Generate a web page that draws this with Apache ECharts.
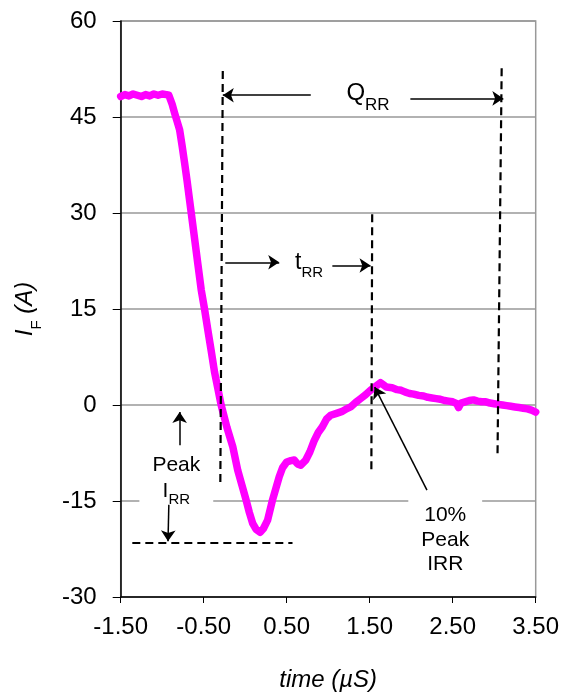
<!DOCTYPE html>
<html><head><meta charset="utf-8">
<script src="https://cdn.jsdelivr.net/npm/echarts@6/dist/echarts.min.js"></script>
<style>html,body{margin:0;padding:0;background:#fff}#c{width:565px;height:696px}</style>
</head><body><div id="c"></div>
<script>
// Forward current waveform I_F (A) vs time (µS)
const timeUs = [-1.50,-1.45,-1.40,-1.35,-1.30,-1.25,-1.20,-1.15,-1.10,-1.05,-1.00,-0.95,-0.92,
 -0.88,-0.85,-0.82,-0.79,-0.76,-0.73,-0.70,-0.67,-0.65,-0.61,-0.57,-0.53,-0.49,-0.45,-0.41,-0.37,-0.33,-0.29,
 -0.22,-0.15,-0.09,-0.04,0.01,0.05,0.09,0.13,0.18,0.22,0.27,0.33,0.37,0.41,0.45,0.50,0.55,0.59,0.63,0.67,0.70,
 0.73,0.78,0.83,0.88,0.93,0.98,1.03,1.10,1.17,1.22,1.27,1.33,1.39,1.45,1.51,1.57,1.63,1.66,1.70,1.77,1.83,1.88,
 1.93,1.98,2.03,2.09,2.15,2.20,2.25,2.30,2.35,2.40,2.45,2.50,2.55,2.57,2.60,2.65,2.70,2.75,2.80,2.85,2.90,2.95,
 3.00,3.05,3.10,3.15,3.20,3.25,3.30,3.35,3.40,3.45,3.50];
const currentA = [48.2,48.5,48.3,48.6,48.4,48.2,48.5,48.3,48.6,48.4,48.6,48.5,48.4,
 47.0,45.6,44.3,43.0,40.5,37.8,35.0,32.0,30.0,26.0,22.0,18.0,15.0,11.7,8.5,5.2,2.6,0.0,
 -3.5,-6.5,-10.2,-12.5,-14.8,-16.8,-18.5,-19.4,-19.9,-19.3,-18.0,-14.8,-13.0,-11.2,-9.8,-8.9,-8.7,-8.6,-9.2,-9.4,-9.0,
 -8.6,-7.3,-5.6,-4.3,-3.4,-2.2,-1.6,-1.3,-1.0,-0.6,-0.3,0.4,1.0,1.6,2.3,2.9,3.5,3.2,2.8,2.7,2.4,2.3,
 2.0,1.8,1.7,1.5,1.4,1.2,1.1,1.0,0.9,0.7,0.6,0.5,0.2,-0.4,0.3,0.5,0.7,0.8,0.6,0.5,0.5,0.3,
 0.2,0.1,0.0,-0.1,-0.2,-0.3,-0.4,-0.5,-0.6,-0.8,-1.1];

const xTickValues = [-1.5,-0.5,0.5,1.5,2.5,3.5];
const yTickValues = [-30,-15,0,15,30,45,60];

// Annotation geometry (data coordinates)
const dashedLines = [
  [[-0.27,52.2],[-0.30,-12.8]],
  [[3.09,52.6],[3.04,-7.8]],
  [[1.53,29.8],[1.52,-10.2]],
  [[-1.36,-21.5],[0.57,-21.5]]
];
const arrowLines = [
  [[0.79,48.4],[-0.27,48.4]],
  [[1.99,47.9],[3.11,47.9]],
  [[-0.24,22.3],[0.41,22.3]],
  [[1.05,21.8],[1.51,21.8]],
  [[-0.79,-6.3],[-0.79,-1.1]],
  [[-0.92,-15.6],[-0.93,-21.3]],
  [[2.19,-13.3],[1.56,2.8]]
];
const labelPoints = [
  {pos:[1.48,48.0], text:'{q|Q}{qs|RR}'},
  {pos:[0.77,21.8], text:'{t|t}{ts|RR}'},
  {pos:[-0.83,-11.9], text:'{p|Peak}\n{p|I}{ps|RR}', box:true},
  {pos:[2.41,-21.1], text:'{n|10%}\n{n|Peak}\n{n|IRR}', box:true}
];

const FONT = 'Liberation Sans, Arial, sans-serif';
const chart = echarts.init(document.getElementById('c'), null, {renderer:'canvas'});

const curve = timeUs.map((t,i)=>[t,currentA[i]]);

const tok = (o)=>Object.assign({fontFamily:FONT, color:'#000', textBorderWidth:0}, o);
const richStyles = {
  q:tok({fontSize:24, verticalAlign:'top', padding:[0,0,8,0]}),
  qs:tok({fontSize:17, verticalAlign:'bottom'}),
  t:tok({fontSize:23, verticalAlign:'top', padding:[0,0,6,0]}),
  ts:tok({fontSize:15, verticalAlign:'bottom'}),
  p:tok({fontSize:21, lineHeight:26, verticalAlign:'top', padding:[0,0,4,0]}),
  ps:tok({fontSize:15, verticalAlign:'bottom'}),
  n:tok({fontSize:21, lineHeight:24.5})
};

chart.setOption({
  animation:false,
  backgroundColor:'#fff',
  grid:{left:120.7, right:29.3, top:21, bottom:99, show:true, borderColor:'#999', borderWidth:1.5, backgroundColor:'transparent', containLabel:false, outerBoundsMode:'none'},
  xAxis:{
    type:'value', min:xTickValues[0], max:xTickValues[xTickValues.length-1], interval:1,
    name:'time (µS)', nameLocation:'middle', nameGap:71,
    nameTextStyle:{fontSize:24, fontStyle:'italic', fontFamily:FONT, color:'#000'},
    axisLine:{show:true, onZero:false, lineStyle:{color:'#000', width:1.5}},
    axisTick:{show:true, length:6, lineStyle:{color:'#000', width:1}},
    axisLabel:{fontSize:24, fontFamily:FONT, color:'#000', margin:18, formatter:v=>v.toFixed(2)},
    splitLine:{show:false}
  },
  yAxis:{
    type:'value', min:yTickValues[0], max:yTickValues[yTickValues.length-1], interval:15,
    name:'{i|I}{f|F}{i| (A)}', nameLocation:'middle', nameGap:76,
    nameTextStyle:{rich:{
      i:{fontSize:24, fontStyle:'italic', fontFamily:FONT, color:'#000', verticalAlign:'top', padding:[0,0,7,0]},
      f:{fontSize:15, fontFamily:FONT, color:'#000', verticalAlign:'bottom'}
    }},
    axisLine:{show:true, onZero:false, lineStyle:{color:'#000', width:1.5}},
    axisTick:{show:true, length:8, lineStyle:{color:'#000', width:1}},
    axisLabel:{fontSize:24, fontFamily:FONT, color:'#000', margin:24},
    splitLine:{show:true, lineStyle:{color:'#999', width:1.5}}
  },
  series:[
    {
      type:'line', data:curve, showSymbol:false, smooth:false, z:3,
      lineStyle:{color:'#ff00ff', width:7.5, join:'round', cap:'round'}
    },
    {
      type:'scatter', z:4, symbolSize:0, silent:true, itemStyle:{opacity:1},
      data:labelPoints.filter(l=>!l.box).map(l=>({value:l.pos, label:{formatter:l.text}})),
      label:{show:true, position:'inside', align:'center', verticalAlign:'middle', color:'#000', textBorderWidth:0, rich:richStyles}
    },
    {
      type:'scatter', z:4, symbolSize:0, silent:true, itemStyle:{opacity:1},
      data:labelPoints.filter(l=>l.box).map(l=>({value:l.pos, label:{formatter:l.text}})),
      label:{show:true, position:'inside', align:'center', verticalAlign:'middle', color:'#000', textBorderWidth:0, backgroundColor:'#fff', padding:[6,13,6,13], rich:richStyles}
    },
    {
      type:'line', data:[], z:5,
      markLine:{
        silent:true, symbol:['none','none'], animation:false,
        label:{show:false},
        lineStyle:{color:'#000', width:2.2, type:[8,5]},
        data:dashedLines.map(s=>[{coord:s[0]},{coord:s[1]}])
      }
    },
    {
      type:'line', data:[], z:6,
      markLine:{
        silent:true, symbol:['none','arrow'], symbolSize:11, animation:false,
        label:{show:false},
        lineStyle:{color:'#000', width:1.5, type:'solid'},
        itemStyle:{color:'#000'},
        data:arrowLines.map(s=>[{coord:s[0]},{coord:s[1]}])
      }
    }
  ]
});
</script></body></html>
